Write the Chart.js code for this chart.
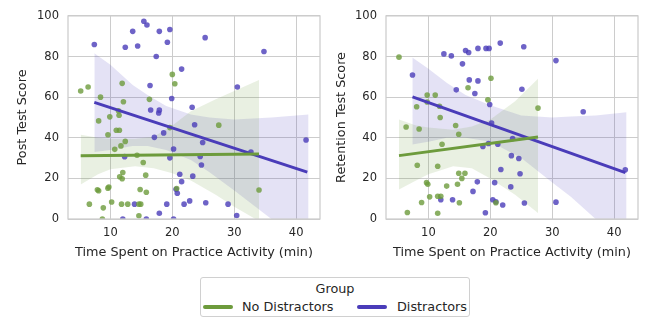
<!DOCTYPE html>
<html>
<head>
<meta charset="utf-8">
<script src="https://cdn.jsdelivr.net/npm/chart.js@4.4.0/dist/chart.umd.min.js"></script>
<style>
  body { margin: 0; background: #fff; width: 648px; height: 320px; overflow: hidden; font-family: "DejaVu Sans", sans-serif; color: #262626; }
  canvas { position: absolute; top: 0; }
  #postCanvas { left: 0; }
  #retCanvas { left: 324px; }
  #legend { position: absolute; left: 200px; top: 277px; width: 270px; height: 40px; border: 1px solid #d0d0d0; border-radius: 3px; box-sizing: border-box; font-size: 12.8px; }
  #legend .title { position: absolute; left: 0; right: 0; top: 3px; line-height: 16px; text-align: center; }
  #legend .sw { position: absolute; width: 30px; height: 4px; border-radius: 2px; top: 27px; }
  #legend .lbl { position: absolute; top: 21px; line-height: 16px; white-space: nowrap; }
</style>
</head>
<body>
<canvas id="postCanvas" width="324" height="270"></canvas>
<canvas id="retCanvas" width="324" height="270"></canvas>
<div id="legend">
  <div class="title">Group</div>
  <span class="sw" style="left:2px;background:#6d9b3c"></span><span class="lbl" style="left:41px">No Distractors</span>
  <span class="sw" style="left:156px;background:#4a3cb9"></span><span class="lbl" style="left:196px">Distractors</span>
</div>
<script>
// ---- Post test: No Distractors ----
const postTimeNo  = [5.2, 6.4, 8.4, 8.1, 9.9, 11.4, 11.3, 11.9, 12.1, 20.0, 20.4, 16.3, 27.5, 9.6, 10.95, 11.45, 12.4, 11.7, 10.7, 14.3, 15.3, 15.7, 12.0, 11.5, 11.9, 7.9, 8.1, 9.6, 9.75, 14.8, 15.8, 20.7, 34.0, 6.6, 10.2, 11.8, 12.8, 14.6, 14.9, 14.6, 8.85, 8.7, 19.6];
const postScoreNo = [63, 65, 60, 48.3, 50.3, 51.1, 53.3, 66.8, 57.7, 71.2, 66.6, 58.9, 46.2, 41.5, 43.7, 43.7, 38.2, 36, 34.3, 31.4, 27.8, 21.6, 22.9, 20.8, 19.8, 14.4, 13.9, 15.2, 15.7, 14.5, 13.2, 15, 14.3, 7.3, 8.4, 7.3, 7.3, 7.3, 7.3, 1.6, 5.5, 0, 45];
// ---- Post test: Distractors ----
const postTimeDi  = [7.4, 12.4, 13.6, 14.4, 15.4, 15.9, 17.9, 19.6, 19.2, 17.4, 25.3, 34.8, 21.5, 16.4, 19.9, 16.5, 17.9, 17.8, 23.2, 23.6, 30.5, 18.6, 17.1, 20.2, 24.9, 32.7, 41.6, 12.3, 19.6, 24.5, 24.7, 21.2, 21.5, 23.3, 20.6, 20.8, 19.1, 21.9, 22.8, 25.4, 29.0, 30.4, 17.9, 12.0, 15.8, 20.2, 13.9];
const postScoreDi = [85.9, 84.6, 92.4, 85.2, 97.4, 95.5, 92.4, 93.3, 87, 80, 89.3, 82.5, 73.8, 65.7, 59.3, 53.7, 53.6, 52.2, 55, 46.4, 65, 42.4, 40.2, 34.5, 37.7, 33, 38.9, 30.7, 30.1, 30.8, 26.6, 22, 18.4, 21.1, 14.6, 12.7, 7.3, 7.3, 8.9, 8, 7.3, 1.7, 2.8, 0, 0, 0, 7.3];

// ---- Retention test: No Distractors ----
const retTimeNo  = [5.25, 6.4, 8.1, 8.5, 8.2, 8.9, 6.6, 9.8, 11.1, 9.8, 11.8, 11.9, 12.2, 14.4, 14.9, 11.5, 16.4, 20.1, 19.6, 27.7, 9.7, 9.9, 10.2, 11.5, 12.0, 12.95, 14.7, 14.9, 15.4, 15.9, 15.0, 11.5, 20.9];
const retScoreNo = [79.7, 45.3, 55.3, 44.3, 26.5, 8.1, 3.2, 61, 61, 57.6, 55.5, 50, 36.8, 46, 41.7, 26, 64.6, 69.3, 58.7, 54.6, 17.9, 17.1, 10.9, 11.2, 11.2, 16.2, 17.1, 22.5, 20, 22.5, 8, 2.8, 8];
// ---- Retention test: Distractors ----
const retTimeDi  = [7.43, 12.5, 13.7, 15.5, 16.0, 16.5, 18.0, 19.3, 19.8, 21.6, 25.4, 30.6, 35.0, 16.6, 18.0, 14.5, 17.5, 25.1, 19.9, 20.2, 18.8, 19.7, 21.2, 23.6, 23.4, 24.6, 21.7, 24.8, 23.3, 17.2, 17.9, 20.7, 20.4, 20.9, 22.0, 25.5, 30.6, 41.8, 12.0, 13.9, 19.2];
const retScoreDi = [70.9, 81.3, 80.3, 76.4, 83, 82, 84, 84, 84, 86.6, 84.8, 78, 52.8, 68.5, 68, 63.6, 61.8, 63.9, 56.4, 47.3, 35.7, 37.2, 36.8, 39.6, 31.2, 29.8, 24.4, 22.3, 15.8, 13.6, 18.3, 17.9, 9.5, 8.5, 6.9, 7.9, 8.3, 24.2, 9.5, 9.5, 3.1];

// regression fit lines (end points)
const postFitNoX = [5.2, 34.0],  postFitNoY = [31.1, 32.0];
const postFitDiX = [7.4, 41.8],  postFitDiY = [57.4, 23.1];
const retFitNoX  = [5.25, 27.7], retFitNoY  = [31.2, 40.4];
const retFitDiX  = [7.43, 41.8], retFitDiY  = [60.1, 22.8];

// confidence bands
const postBandNoX  = [5.2, 8, 10, 14, 17, 20, 23, 27, 30, 34];
const postBandNoHi = [41.5, 40, 39.5, 39.5, 40.5, 46, 53, 59, 63, 68.5];
const postBandNoLo = [17, 22, 24.5, 26, 25, 22.5, 19, 12, 6, -1];
const postBandDiX  = [7.4, 10, 13.6, 16, 19, 23, 26, 30, 33, 36, 42];
const postBandDiHi = [81.6, 76, 66, 61, 55.6, 51.5, 50, 49, 49.5, 50, 51.5];
const postBandDiLo = [33, 34, 36, 36, 34, 29, 23, 14, 7, 0, -12];
const retBandNoX  = [5.25, 8, 10, 14, 17, 20, 24, 27.7];
const retBandNoHi = [49, 46, 45, 44, 45.5, 49, 58, 69];
const retBandNoLo = [14.5, 19, 22, 26, 25, 20, 12, 3];
const retBandDiX  = [7.4, 10, 13, 16, 20, 25, 30, 33, 37, 42];
const retBandDiHi = [79.5, 74, 67, 61, 56, 51, 50, 50.5, 51, 52.5];
const retBandDiLo = [36.7, 38, 40, 40, 38, 30, 18, 11, 0, -12];

const xTicks = [10, 20, 30, 40];
const yTicks = [0, 20, 40, 60, 80, 100];

const GREEN = '#6d9b3c';
const PURPLE = '#4a3cb9';
const TEXT = '#262626';

function pts(xs, ys) {
  return xs.map((x, i) => ({ x: x, y: ys[i] }));
}

function rgba(hex, a) {
  const n = parseInt(hex.slice(1), 16);
  return 'rgba(' + (n >> 16) + ',' + ((n >> 8) & 255) + ',' + (n & 255) + ',' + a + ')';
}

function groupSets(tx, ty, fx, fy, bx, bhi, blo, color) {
  return [
    { type: 'line', data: pts(bx, bhi), borderWidth: 0, pointRadius: 0, fill: '+1', backgroundColor: rgba(color, 0.15), order: 5 },
    { type: 'line', data: pts(bx, blo), borderWidth: 0, pointRadius: 0, fill: false, order: 5 },
    { type: 'scatter', data: pts(tx, ty), pointRadius: 2.8, pointBorderWidth: 0, backgroundColor: rgba(color, 0.8), order: 3 },
    { type: 'line', data: pts(fx, fy), borderColor: color, borderWidth: 3, pointRadius: 0, fill: false, order: 1 }
  ];
}

const framePlugin = {
  id: 'frame',
  afterDatasetsDraw: (chart) => {
    const a = chart.chartArea;
    const c = chart.ctx;
    c.save();
    c.strokeStyle = '#cccccc';
    c.lineWidth = 1.25;
    c.strokeRect(a.left, a.top, a.right - a.left, a.bottom - a.top);
    c.restore();
  }
};

function makePanel(id, yTitle, yWidth, yTitlePad, rightPad, datasets) {
  return new Chart(document.getElementById(id), {
    type: 'scatter',
    data: { datasets: datasets },
    options: {
      responsive: false,
      animation: false,
      events: [],
      layout: { padding: { top: 14, right: rightPad, left: 0, bottom: 0 } },
      plugins: { legend: { display: false }, tooltip: { enabled: false } },
      scales: {
        x: {
          type: 'linear', min: 3.15, max: 43.85,
          afterBuildTicks: (s) => { s.ticks = xTicks.map(v => ({ value: v })); },
          afterFit: (s) => { s.height = 51; },
          grid: { color: '#cccccc', drawTicks: false },
          border: { display: false },
          ticks: { color: TEXT, padding: 7, font: { family: 'DejaVu Sans', size: 11.5 } },
          title: { display: true, text: 'Time Spent on Practice Activity (min)', color: TEXT, padding: { top: 0, bottom: 10 }, font: { family: 'DejaVu Sans', size: 12.8 } }
        },
        y: {
          type: 'linear', min: 0, max: 100,
          afterBuildTicks: (s) => { s.ticks = yTicks.map(v => ({ value: v })); },
          afterFit: (s) => { s.width = yWidth; },
          grid: { color: '#cccccc', drawTicks: false },
          border: { display: false },
          ticks: { color: TEXT, padding: 9, font: { family: 'DejaVu Sans', size: 11.5 } },
          title: { display: true, text: yTitle, color: TEXT, padding: { top: yTitlePad, bottom: 0 }, font: { family: 'DejaVu Sans', size: 12.8 } }
        }
      }
    },
    plugins: [framePlugin]
  });
}

makePanel('postCanvas', 'Post Test Score', 68, 15, 4,
  groupSets(postTimeNo, postScoreNo, postFitNoX, postFitNoY, postBandNoX, postBandNoHi, postBandNoLo, GREEN)
    .concat(groupSets(postTimeDi, postScoreDi, postFitDiX, postFitDiY, postBandDiX, postBandDiHi, postBandDiLo, PURPLE)));

makePanel('retCanvas', 'Retention Test Score', 62, 9.5, 10,
  groupSets(retTimeNo, retScoreNo, retFitNoX, retFitNoY, retBandNoX, retBandNoHi, retBandNoLo, GREEN)
    .concat(groupSets(retTimeDi, retScoreDi, retFitDiX, retFitDiY, retBandDiX, retBandDiHi, retBandDiLo, PURPLE)));
</script>
</body>
</html>
